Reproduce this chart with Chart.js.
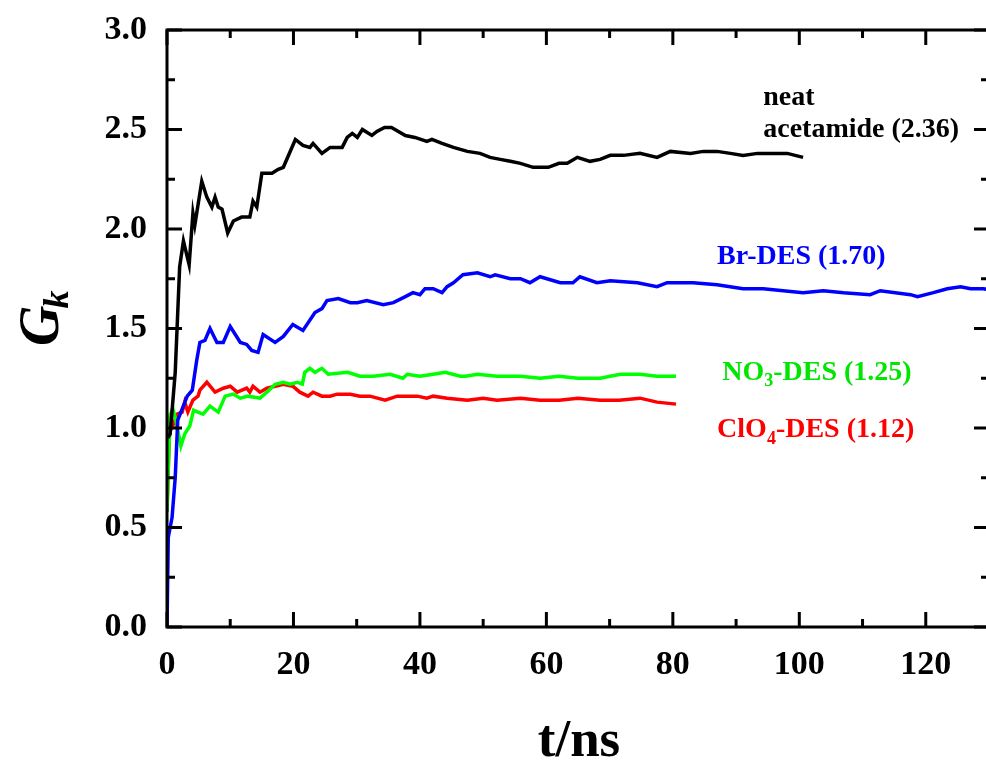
<!DOCTYPE html>
<html>
<head>
<meta charset="utf-8">
<script src="https://cdn.jsdelivr.net/npm/chart.js@4"></script>
<style>
  html, body { margin: 0; padding: 0; background: #fff; overflow: hidden; }
  #wrap { width: 992px; height: 760px; }
</style>
</head>
<body>
<div id="wrap"><canvas id="chartGk" width="992" height="760"></canvas></div>
<script>
// t (ns), G_k
var acetamide = [[0.1,0.95],[0.5,0.97],[1.3,1.28],[2.0,1.81],[2.6,1.94],[3.5,1.82],[4.1,2.08],[4.4,2.02],[5.5,2.24],[6.3,2.16],[7.1,2.11],[7.6,2.16],[8.1,2.11],[8.7,2.10],[9.6,1.98],[10.5,2.04],[11.8,2.06],[13.1,2.06],[13.6,2.14],[14.2,2.11],[15.0,2.28],[16.6,2.28],[17.6,2.30],[18.4,2.31],[20.3,2.45],[21.5,2.42],[22.6,2.41],[23.1,2.43],[24.5,2.38],[25.8,2.41],[27.7,2.41],[28.5,2.46],[29.3,2.48],[30.1,2.46],[30.9,2.50],[32.4,2.47],[33.2,2.49],[34.4,2.51],[35.5,2.51],[37.7,2.47],[39.2,2.46],[41.1,2.44],[41.9,2.45],[43.5,2.43],[45.3,2.41],[47.5,2.39],[49.5,2.38],[51.1,2.36],[52.7,2.35],[54.3,2.34],[55.9,2.33],[57.9,2.31],[60.3,2.31],[62.0,2.33],[63.3,2.33],[64.9,2.36],[66.9,2.34],[68.5,2.35],[70.1,2.37],[72.2,2.37],[74.8,2.38],[77.5,2.36],[79.6,2.39],[82.8,2.38],[84.8,2.39],[87.0,2.39],[89.1,2.38],[91.1,2.37],[93.4,2.38],[95.9,2.38],[98.1,2.38],[100.6,2.36]];
var brDES = [[0,0],[0.2,0.45],[0.5,0.50],[0.8,0.55],[1.3,0.75],[1.7,1.04],[3.2,1.16],[4.0,1.19],[4.7,1.34],[5.2,1.43],[6.0,1.44],[6.8,1.50],[7.9,1.43],[8.9,1.43],[10.0,1.51],[11.6,1.43],[12.6,1.42],[13.4,1.39],[14.4,1.38],[15.2,1.47],[17.1,1.43],[18.4,1.46],[19.9,1.52],[21.5,1.49],[23.4,1.58],[24.5,1.60],[25.3,1.64],[27.1,1.65],[29.0,1.63],[30.1,1.63],[31.6,1.64],[34.2,1.62],[35.8,1.63],[37.7,1.66],[38.9,1.68],[40.0,1.67],[40.8,1.70],[42.1,1.70],[43.5,1.68],[44.3,1.71],[45.3,1.73],[46.8,1.77],[49.1,1.78],[51.1,1.76],[51.9,1.77],[54.3,1.75],[55.9,1.75],[57.4,1.73],[59.0,1.76],[62.2,1.73],[64.2,1.73],[65.3,1.76],[68.0,1.73],[70.1,1.74],[74.4,1.73],[77.5,1.71],[79.1,1.73],[83.2,1.73],[87.0,1.72],[91.1,1.70],[94.3,1.70],[100.6,1.68],[103.8,1.69],[107.0,1.68],[111.2,1.67],[112.8,1.69],[117.6,1.67],[118.7,1.66],[121.2,1.68],[123.4,1.70],[125.5,1.71],[127.1,1.70],[129.1,1.70],[131,1.69]];
var no3DES = [[0,0.58],[0.2,0.80],[0.5,1.06],[0.9,1.10],[1.4,1.04],[2.2,0.91],[2.8,0.97],[3.6,1.01],[4.2,1.09],[4.9,1.08],[5.7,1.07],[6.8,1.11],[8.1,1.08],[9.2,1.16],[10.5,1.17],[11.6,1.15],[12.8,1.16],[14.7,1.15],[15.8,1.18],[17.1,1.22],[18.4,1.23],[19.5,1.22],[20.6,1.23],[21.4,1.22],[21.8,1.28],[22.6,1.30],[23.4,1.28],[24.5,1.30],[25.5,1.27],[28.6,1.28],[30.5,1.26],[32.6,1.26],[35.3,1.27],[37.3,1.25],[38.0,1.27],[40.0,1.26],[42.1,1.27],[44.0,1.28],[46.4,1.26],[47.2,1.26],[49.1,1.27],[52.2,1.26],[55.9,1.26],[59.0,1.25],[62.0,1.26],[65.0,1.25],[68.5,1.25],[71.7,1.27],[74.8,1.27],[77.5,1.26],[80.5,1.26]];
var clo4DES = [[0,0.58],[0.3,0.90],[0.5,1.04],[0.9,1.01],[1.6,1.07],[2.4,1.08],[2.8,1.13],[3.3,1.08],[4.1,1.14],[4.9,1.16],[5.2,1.19],[6.3,1.23],[7.6,1.18],[8.9,1.20],[10.0,1.21],[11.1,1.18],[12.6,1.20],[13.1,1.18],[13.6,1.21],[14.7,1.18],[15.8,1.20],[17.1,1.21],[18.4,1.22],[19.9,1.21],[21.0,1.18],[22.3,1.16],[23.1,1.18],[24.5,1.16],[25.8,1.16],[26.9,1.17],[29.0,1.17],[30.5,1.16],[32.1,1.16],[34.5,1.14],[36.4,1.16],[39.6,1.16],[41.1,1.15],[42.1,1.16],[44.3,1.15],[47.5,1.14],[50.0,1.15],[52.2,1.14],[55.9,1.15],[59.0,1.14],[62.0,1.14],[65.0,1.15],[68.5,1.14],[71.5,1.14],[74.8,1.15],[77.5,1.13],[80.5,1.12]];

var xMajor = [0, 20, 40, 60, 80, 100, 120];
var xMinor = [10, 30, 50, 70, 90, 110, 130];
var yMajor = [0, 0.5, 1.0, 1.5, 2.0, 2.5, 3.0];
var yMinor = [0.25, 0.75, 1.25, 1.75, 2.25, 2.75];

var SERIF = "'Liberation Serif', 'Times New Roman', serif";

function pts(arr) {
    return arr.map(function (p) { return { x: p[0], y: p[1] }; });
}

function line(label, arr, color) {
    return {
        label: label,
        data: pts(arr),
        borderColor: color,
        borderWidth: 3.5,
        pointRadius: 0,
        tension: 0,
        fill: false
    };
}

// labels next to the curves, placed in data units
var curveLabels = [
    { x: 94.3, y: 2.66, color: '#000', parts: [['neat', 0]] },
    { x: 94.3, y: 2.50, color: '#000', parts: [['acetamide (2.36)', 0]] },
    { x: 87.0, y: 1.86, color: '#0000ff', parts: [['Br-DES (1.70)', 0]] },
    { x: 87.8, y: 1.28, color: '#00e600', parts: [['NO', 0], ['3', 1], ['-DES (1.25)', 0]] },
    { x: 87.0, y: 0.99, color: '#ff0000', parts: [['ClO', 0], ['4', 1], ['-DES (1.12)', 0]] }
];

var framePlugin = {
    id: 'frame',
    afterDraw: function (chart) {
        var ctx = chart.ctx, a = chart.chartArea;
        var sx = chart.scales.x, sy = chart.scales.y;
        ctx.save();
        ctx.strokeStyle = '#000';
        ctx.lineWidth = 3;
        ctx.lineCap = 'butt';
        ctx.strokeRect(a.left, a.top, a.right - a.left, a.bottom - a.top);

        function xTick(v, len) {
            var px = sx.getPixelForValue(v);
            ctx.beginPath();
            ctx.moveTo(px, a.bottom); ctx.lineTo(px, a.bottom - len);
            ctx.moveTo(px, a.top); ctx.lineTo(px, a.top + len);
            ctx.stroke();
        }
        function yTick(v, len) {
            var py = sy.getPixelForValue(v);
            ctx.beginPath();
            ctx.moveTo(a.left, py); ctx.lineTo(a.left + len, py);
            ctx.moveTo(a.right, py); ctx.lineTo(a.right - len, py);
            ctx.stroke();
        }
        xMajor.forEach(function (v) { xTick(v, 15); });
        xMinor.forEach(function (v) { xTick(v, 8); });
        yMajor.forEach(function (v) { yTick(v, 15); });
        yMinor.forEach(function (v) { yTick(v, 8); });

        // curve labels
        ctx.textBaseline = 'middle';
        ctx.textAlign = 'left';
        curveLabels.forEach(function (l) {
            var px = sx.getPixelForValue(l.x), py = sy.getPixelForValue(l.y);
            ctx.fillStyle = l.color;
            l.parts.forEach(function (p) {
                ctx.font = 'bold ' + (p[1] ? 18 : 28) + 'px ' + SERIF;
                ctx.fillText(p[0], px, py + (p[1] ? 9 : 0));
                px += ctx.measureText(p[0]).width;
            });
        });

        // axis titles
        ctx.fillStyle = '#000';
        ctx.textAlign = 'center';
        ctx.textBaseline = 'alphabetic';
        ctx.font = 'bold 53px ' + SERIF;
        ctx.fillText('t/ns', 579, 756);

        ctx.save();
        ctx.translate(58, 346);
        ctx.rotate(-Math.PI / 2);
        ctx.textAlign = 'left';
        ctx.font = 'italic bold 56px ' + SERIF;
        ctx.fillText('G', 0, 0);
        var gw = ctx.measureText('G').width;
        ctx.font = 'italic bold 36px ' + SERIF;
        ctx.fillText('k', gw - 3, 10);
        ctx.restore();

        ctx.restore();
    }
};

new Chart(document.getElementById('chartGk'), {
    type: 'line',
    data: {
        datasets: [
            line('neat acetamide', acetamide, '#000000'),
            line('Br-DES', brDES, '#0000ff'),
            line('NO3-DES', no3DES, '#00ff00'),
            line('ClO4-DES', clo4DES, '#ff0000')
        ]
    },
    options: {
        responsive: false,
        animation: false,
        devicePixelRatio: 1,
        layout: { padding: { left: 0, top: 30, right: 3, bottom: 0 } },
        plugins: {
            legend: { display: false },
            tooltip: { enabled: false }
        },
        scales: {
            x: {
                type: 'linear',
                min: 0,
                max: 130,
                afterBuildTicks: function (s) { s.ticks = xMajor.map(function (v) { return { value: v }; }); },
                afterFit: function (s) { s.height = 133; s.paddingLeft = 0; s.paddingRight = 0; },
                grid: { display: false, drawTicks: false },
                border: { display: false },
                ticks: {
                    color: '#000',
                    padding: 18,
                    maxRotation: 0,
                    font: { family: SERIF, size: 34, weight: 'bold' }
                }
            },
            y: {
                min: 0,
                max: 3,
                afterBuildTicks: function (s) { s.ticks = yMajor.map(function (v) { return { value: v }; }); },
                afterFit: function (s) { s.width = 167; s.paddingTop = 0; s.paddingBottom = 0; },
                grid: { display: false, drawTicks: false },
                border: { display: false },
                ticks: {
                    color: '#000',
                    padding: 20,
                    font: { family: SERIF, size: 34, weight: 'bold' },
                    callback: function (v) { return v.toFixed(1); }
                }
            }
        }
    },
    plugins: [framePlugin]
});
</script>
</body>
</html>
